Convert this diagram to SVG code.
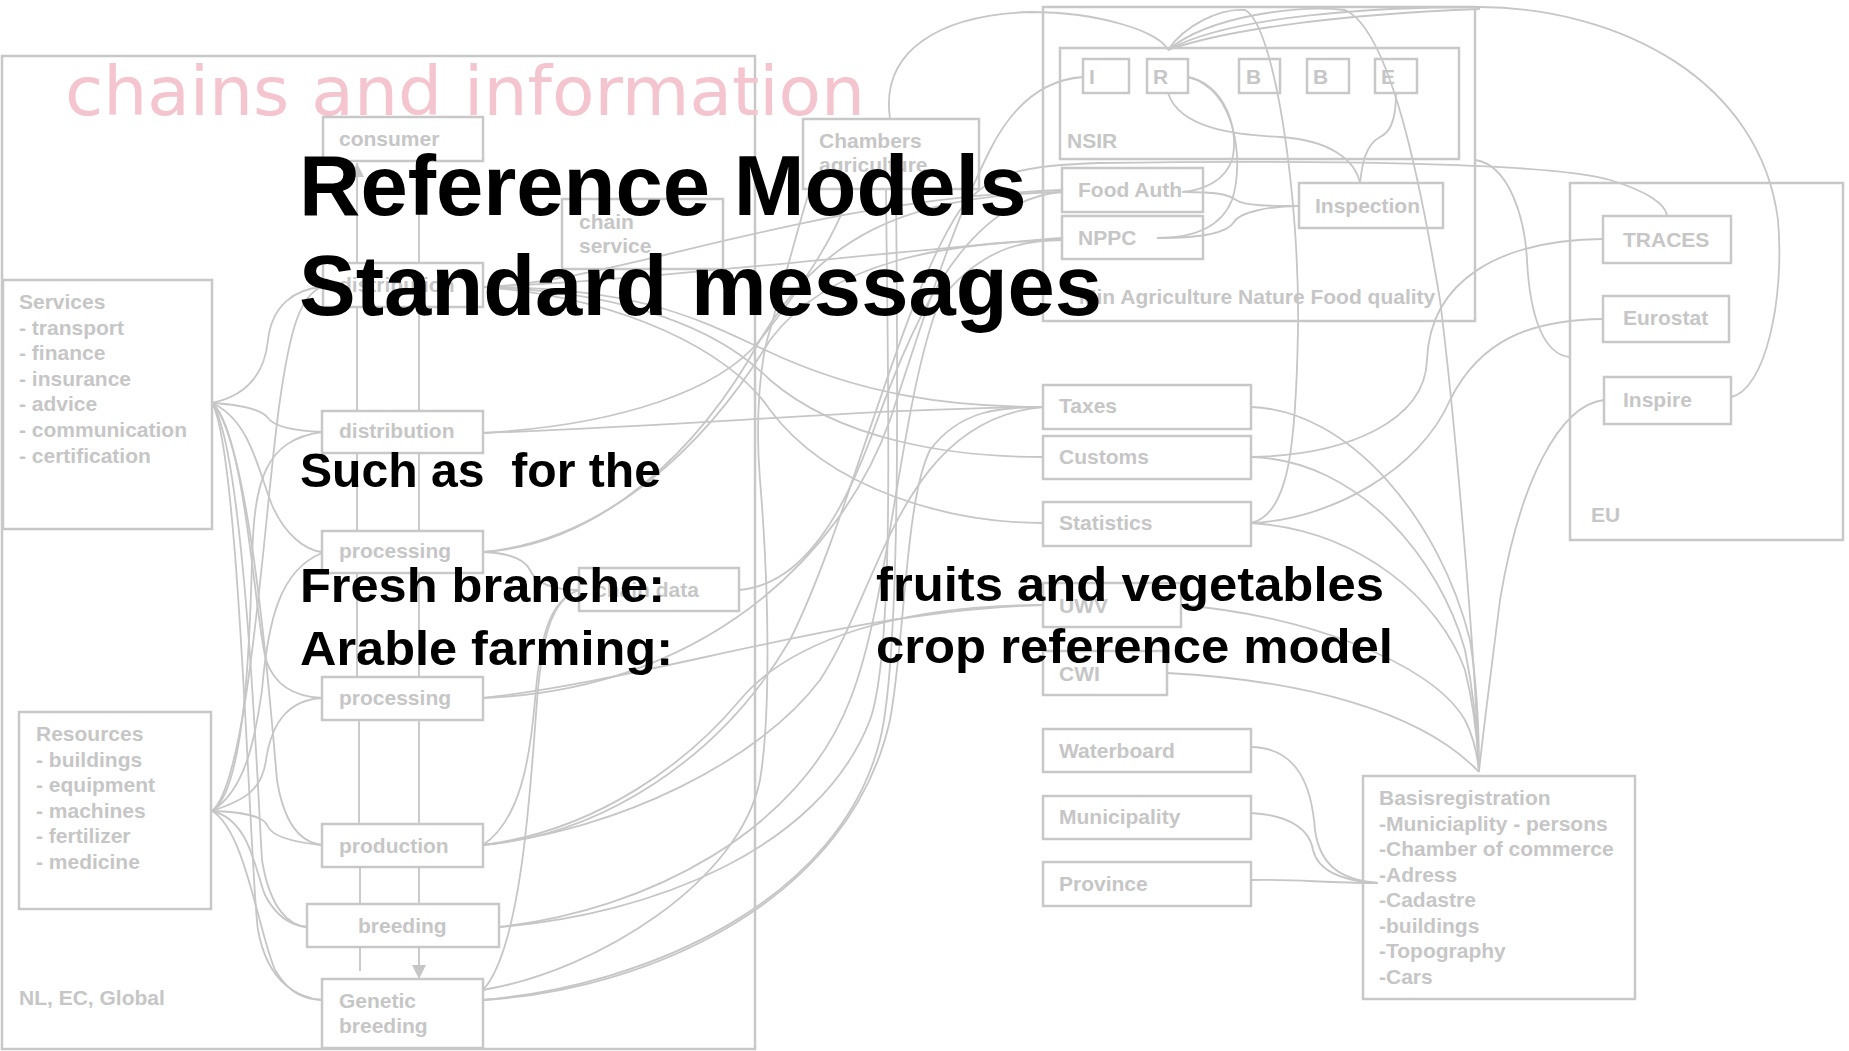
<svg xmlns="http://www.w3.org/2000/svg" width="1849" height="1051" viewBox="0 0 1849 1051">
<style>
.bx{fill:none;stroke:#c8c8c8;stroke-width:2.5}
.lb{font-family:"Liberation Sans",Arial,sans-serif;font-weight:bold;font-size:21px;fill:#c6c6c6}
.cn path{fill:none;stroke:#c6c6c6;stroke-width:1.8}
.big{font-family:"Liberation Sans",Arial,sans-serif;font-weight:bold;fill:#000}
</style>
<defs>
<marker id="ar" markerUnits="userSpaceOnUse" markerWidth="14" markerHeight="16" refX="14" refY="7" orient="auto">
<path d="M0,0 L14,7 L0,14 z" fill="#c6c6c6"/>
</marker>
</defs>
<rect width="1849" height="1051" fill="#fff"/>

<g id="frame-chains"><rect class="bx" x="2" y="56" width="753" height="993"/></g>
<text x="65" y="115" font-family="'DejaVu Sans',sans-serif" font-size="68" fill="#f4c4cf" textLength="800" lengthAdjust="spacingAndGlyphs">chains and information</text>

<g class="cn" id="connectors">
<!-- chain vertical links -->
<path d="M357,263 V163" marker-end="url(#ar)"/>
<path d="M419,161 V263"/>
<path d="M357,307 V411"/><path d="M419,307 V411"/>
<path d="M357,453 V531"/><path d="M419,453 V531"/>
<path d="M357,573 V677"/><path d="M419,573 V677"/>
<path d="M359,720 V824"/><path d="M419,720 V824"/>
<path d="M360,867 V904"/><path d="M419,867 V904"/>
<path d="M360,947 V971"/>
<path d="M419,947 V979" marker-end="url(#ar)"/>
<!-- services fan -->
<path d="M212,403 C250,395 265,370 268,340 C272,305 295,289 322,287"/>
<path d="M212,403 C245,405 262,410 268,418 C275,428 300,431 322,432"/>
<path d="M212,403 C250,420 258,470 272,505 C285,535 305,550 322,552"/>
<path d="M212,403 C245,430 255,620 266,660 C276,690 300,697 322,698"/>
<path d="M212,403 C250,440 270,700 277,780 C285,830 305,843 322,845"/>
<path d="M212,403 C245,450 258,800 262,860 C270,910 290,926 307,927"/>
<path d="M212,403 C240,450 250,880 258,930 C268,985 300,998 322,1000"/>
<!-- resources fan -->
<path d="M212,811 C250,780 265,500 280,400 C290,330 300,295 322,287"/>
<path d="M212,811 C245,790 250,640 252,560 C254,480 265,440 322,432"/>
<path d="M212,811 C245,790 255,740 262,690 C268,620 280,570 322,553"/>
<path d="M212,811 C245,800 262,790 266,760 C272,720 290,700 322,698"/>
<path d="M212,811 C240,812 262,815 267,825 C272,838 300,843 322,845"/>
<path d="M212,811 C250,820 255,870 265,895 C278,920 295,926 307,927"/>
<path d="M212,811 C245,830 258,930 275,970 C290,995 305,999 322,1000"/>
<!-- chain to government -->
<path d="M483,287 C650,280 850,255 1062,238"/>
<path d="M483,287 C620,282 800,200 1062,190"/>
<path d="M483,287 C640,287 700,320 765,350 C860,395 950,407 1043,407"/>
<path d="M483,287 C630,292 720,330 770,380 C840,440 950,457 1043,457"/>
<path d="M483,287 C620,297 730,350 770,410 C830,490 950,523 1043,523"/>
<path d="M483,433 C700,425 880,408 1043,407"/>
<path d="M483,433 C620,425 720,390 760,340 C800,290 840,230 850,189"/>
<path d="M483,552 C600,545 700,450 760,340 C820,240 900,195 1062,192"/>
<path d="M483,552 C610,540 710,440 770,340 C830,260 950,242 1062,240"/>
<path d="M483,552 C510,553 525,560 530,570 C537,585 555,590 579,590"/>
<path d="M483,845 C520,820 530,760 535,700 C540,640 548,600 579,590"/>
<path d="M483,990 C520,950 530,800 537,700 C542,640 550,600 579,590"/>
<path d="M739,590 C800,585 840,520 870,440 C910,330 960,200 1062,192"/>
<path d="M1083,77 C1040,80 1010,110 990,150 C950,230 920,330 890,420 C840,560 700,690 483,698"/>
<path d="M483,698 C650,680 850,610 1043,605"/>
<path d="M483,845 C600,830 690,760 740,700 C790,640 900,605 1043,605"/>
<path d="M483,845 C620,830 760,760 820,680 C880,590 900,420 1043,407"/>
<path d="M483,845 C600,835 720,760 790,640 C850,520 900,300 960,210 C990,170 1030,165 1100,163 C1300,160 1550,162 1610,180 C1650,192 1665,205 1667,215"/>
<path d="M499,927 C650,915 820,850 870,720 C895,650 888,400 886,189"/>
<path d="M499,927 C650,910 800,830 850,700 C890,600 900,400 940,300 C980,250 1020,240 1062,240"/>
<path d="M483,1000 C650,985 840,900 880,740 C900,660 898,400 896,189"/>
<path d="M483,1000 C650,990 850,900 890,720 C905,640 905,500 930,450 C960,410 1000,407 1043,407"/>
<path d="M483,990 C600,970 740,880 760,780 C770,720 770,600 760,480 C755,420 760,360 770,330 C790,260 800,220 810,189"/>
<!-- NSIR area -->
<path d="M890,119 C880,50 940,15 1030,12 C1100,12 1160,32 1168,50"/>
<path d="M1168,50 C1230,15 1380,7 1480,7 C1620,8 1760,80 1778,220 C1785,300 1765,390 1731,397"/>
<path d="M1168,50 C1230,28 1350,14 1480,9"/>
<path d="M1168,50 C1210,15 1300,5 1345,10 C1390,30 1420,180 1440,300 C1455,420 1475,650 1479,772"/>
<path d="M1168,50 C1185,25 1220,8 1245,10 C1275,25 1300,200 1298,330 C1296,440 1290,515 1251,523"/>
<path d="M1168,93 C1180,130 1240,135 1280,137 C1330,140 1355,160 1360,183"/>
<path d="M1396,93 C1396,125 1388,133 1380,137 C1365,145 1362,165 1360,183"/>
<path d="M1188,77 C1225,85 1240,130 1232,160 C1225,180 1205,190 1182,192"/>
<path d="M1188,77 C1235,88 1245,160 1232,200 C1220,230 1190,238 1157,238"/>
<path d="M1185,192 C1215,192 1228,194 1236,200 C1245,206 1270,206 1299,206"/>
<path d="M1160,238 C1205,238 1228,232 1234,222 C1240,212 1270,206 1299,206"/>
<path d="M1475,160 C1510,165 1525,220 1527,260 C1530,320 1545,355 1570,357"/>
<path d="M1603,239 C1500,240 1430,280 1427,360 C1425,420 1350,455 1251,457"/>
<path d="M1603,319 C1530,320 1480,340 1450,400 C1420,470 1330,520 1251,523"/>
<!-- to Basisregistration -->
<path d="M1251,407 C1350,410 1440,520 1470,640 C1478,690 1479,740 1479,772"/>
<path d="M1251,457 C1360,460 1440,560 1465,650 C1475,700 1478,740 1479,772"/>
<path d="M1251,523 C1360,530 1440,600 1465,670 C1475,710 1478,750 1479,772"/>
<path d="M1181,605 C1300,615 1430,660 1465,720 C1475,740 1478,760 1479,772"/>
<path d="M1167,673 C1300,680 1420,710 1479,772"/>
<path d="M1604,400 C1560,405 1520,480 1500,600 C1490,680 1482,740 1479,772"/>
<path d="M1251,747 C1300,748 1312,790 1315,830 C1320,865 1340,880 1378,883"/>
<path d="M1251,813 C1290,815 1310,830 1313,850 C1318,870 1340,881 1378,883"/>
<path d="M1251,880 C1300,879 1320,883 1378,883"/>
</g>

<g id="consumer"><rect class="bx" x="323" y="117" width="160" height="44"/><text class="lb" x="339" y="146">consumer</text></g>
<g id="distribution-1"><rect class="bx" x="323" y="263" width="160" height="44"/><text class="lb" x="339" y="292">distribution</text></g>
<g id="distribution-2"><rect class="bx" x="322" y="411" width="161" height="42"/><text class="lb" x="339" y="438">distribution</text></g>
<g id="processing-1"><rect class="bx" x="322" y="531" width="161" height="42"/><text class="lb" x="339" y="558">processing</text></g>
<g id="processing-2"><rect class="bx" x="322" y="677" width="161" height="43"/><text class="lb" x="339" y="705">processing</text></g>
<g id="production"><rect class="bx" x="322" y="824" width="161" height="43"/><text class="lb" x="339" y="853">production</text></g>
<g id="breeding"><rect class="bx" x="307" y="904" width="192" height="43"/><text class="lb" x="358" y="933">breeding</text></g>
<g id="genetic-breeding"><rect class="bx" x="322" y="979" width="161" height="69"/><text class="lb" x="339" y="1008">Genetic</text><text class="lb" x="339" y="1033">breeding</text></g>
<g id="chain-service"><rect class="bx" x="562" y="199" width="161" height="70"/><text class="lb" x="579" y="229">chain</text><text class="lb" x="579" y="253">service</text></g>
<g id="chain-data"><rect class="bx" x="579" y="568" width="160" height="43"/><text class="lb" x="595" y="597">chain data</text></g>
<g id="chambers"><rect class="bx" x="803" y="119" width="176" height="70"/><text class="lb" x="819" y="148">Chambers</text><text class="lb" x="819" y="172">agriculture</text></g>
<g id="services"><rect class="bx" x="3" y="280" width="209" height="249"/>
<text class="lb" x="19" y="309">Services</text><text class="lb" x="19" y="334.6">- transport</text><text class="lb" x="19" y="360">- finance</text><text class="lb" x="19" y="385.8">- insurance</text><text class="lb" x="19" y="411.4">- advice</text><text class="lb" x="19" y="437">- communication</text><text class="lb" x="19" y="462.6">- certification</text></g>
<g id="resources"><rect class="bx" x="19" y="712" width="192" height="197"/>
<text class="lb" x="36" y="741">Resources</text><text class="lb" x="36" y="766.5">- buildings</text><text class="lb" x="36" y="792">- equipment</text><text class="lb" x="36" y="817.5">- machines</text><text class="lb" x="36" y="843">- fertilizer</text><text class="lb" x="36" y="868.5">- medicine</text></g>
<g id="scope"><text class="lb" x="19" y="1005">NL, EC, Global</text></g>

<g id="min-agriculture"><rect class="bx" x="1043" y="7" width="432" height="314"/><text class="lb" x="1079" y="304">Min Agriculture Nature Food quality</text></g>
<g id="nsir"><rect class="bx" x="1060" y="48" width="399" height="111"/><text class="lb" x="1067" y="148">NSIR</text></g>
<g id="nsir-i"><rect class="bx" x="1083" y="59" width="46" height="34"/><text class="lb" x="1089" y="84">I</text></g>
<g id="nsir-r"><rect class="bx" x="1147" y="59" width="41" height="34"/><text class="lb" x="1153" y="84">R</text></g>
<g id="nsir-b1"><rect class="bx" x="1239" y="59" width="41" height="34"/><text class="lb" x="1246" y="84">B</text></g>
<g id="nsir-b2"><rect class="bx" x="1307" y="59" width="42" height="34"/><text class="lb" x="1313" y="84">B</text></g>
<g id="nsir-e"><rect class="bx" x="1375" y="59" width="42" height="34"/><text class="lb" x="1381" y="84">E</text></g>
<g id="food-auth"><rect class="bx" x="1062" y="168" width="141" height="44"/><text class="lb" x="1078" y="197">Food Auth</text></g>
<g id="nppc"><rect class="bx" x="1062" y="216" width="141" height="43"/><text class="lb" x="1078" y="245">NPPC</text></g>
<g id="inspection"><rect class="bx" x="1299" y="183" width="144" height="45"/><text class="lb" x="1315" y="213">Inspection</text></g>
<g id="taxes"><rect class="bx" x="1043" y="385" width="208" height="44"/><text class="lb" x="1059" y="413">Taxes</text></g>
<g id="customs"><rect class="bx" x="1043" y="436" width="208" height="43"/><text class="lb" x="1059" y="464">Customs</text></g>
<g id="statistics"><rect class="bx" x="1043" y="502" width="208" height="44"/><text class="lb" x="1059" y="530">Statistics</text></g>
<g id="uwv"><rect class="bx" x="1043" y="583" width="138" height="44"/><text class="lb" x="1059" y="613">UWV</text></g>
<g id="cwi"><rect class="bx" x="1043" y="651" width="124" height="44"/><text class="lb" x="1059" y="681">CWI</text></g>
<g id="waterboard"><rect class="bx" x="1043" y="729" width="208" height="43"/><text class="lb" x="1059" y="758">Waterboard</text></g>
<g id="municipality"><rect class="bx" x="1043" y="796" width="208" height="43"/><text class="lb" x="1059" y="824">Municipality</text></g>
<g id="province"><rect class="bx" x="1043" y="862" width="208" height="44"/><text class="lb" x="1059" y="891">Province</text></g>
<g id="basisregistration"><rect class="bx" x="1363" y="776" width="272" height="223"/>
<text class="lb" x="1379" y="805">Basisregistration</text><text class="lb" x="1379" y="830.5">-Municiaplity - persons</text><text class="lb" x="1379" y="856">-Chamber of commerce</text><text class="lb" x="1379" y="881.5">-Adress</text><text class="lb" x="1379" y="907">-Cadastre</text><text class="lb" x="1379" y="932.5">-buildings</text><text class="lb" x="1379" y="958">-Topography</text><text class="lb" x="1379" y="983.5">-Cars</text></g>
<g id="eu"><rect class="bx" x="1570" y="183" width="273" height="357"/><text class="lb" x="1591" y="522">EU</text></g>
<g id="traces"><rect class="bx" x="1603" y="216" width="128" height="47"/><text class="lb" x="1623" y="247">TRACES</text></g>
<g id="eurostat"><rect class="bx" x="1603" y="296" width="126" height="46"/><text class="lb" x="1623" y="325">Eurostat</text></g>
<g id="inspire"><rect class="bx" x="1604" y="377" width="127" height="47"/><text class="lb" x="1623" y="407">Inspire</text></g>

<g id="title">
<text class="big" x="299" y="215" font-size="85">Reference Models</text>
<text class="big" x="299" y="315" font-size="85">Standard messages</text>
<text class="big" x="300" y="487" font-size="49" textLength="361" lengthAdjust="spacingAndGlyphs" xml:space="preserve">Such as  for the</text>
<text class="big" x="300" y="602" font-size="49" textLength="365" lengthAdjust="spacingAndGlyphs">Fresh branche:</text>
<text class="big" x="300" y="665" font-size="49" textLength="373" lengthAdjust="spacingAndGlyphs">Arable farming:</text>
<text class="big" x="876" y="601" font-size="49" textLength="508" lengthAdjust="spacingAndGlyphs">fruits and vegetables</text>
<text class="big" x="876" y="663" font-size="49" textLength="517" lengthAdjust="spacingAndGlyphs">crop reference model</text>
</g>
</svg>
